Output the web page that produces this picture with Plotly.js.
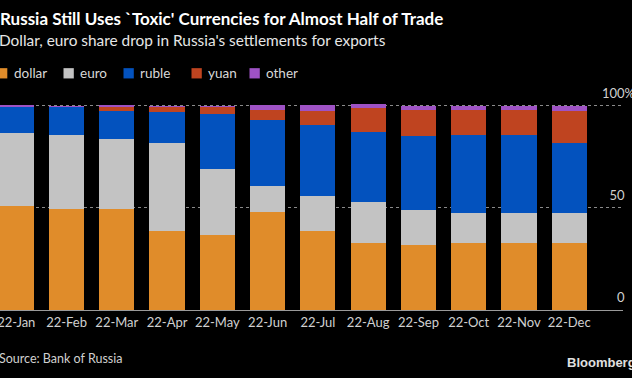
<!DOCTYPE html>
<html>
<head>
<meta charset="utf-8">
<script src="https://cdn.plot.ly/plotly-3.0.1.min.js"></script>
<style>
  html, body { margin: 0; padding: 0; background: #000; }
  #chart { width: 632px; height: 378px; }
</style>
</head>
<body>
<div id="chart"></div>
<script>
const months = ["22-Jan","22-Feb","22-Mar","22-Apr","22-May","22-Jun","22-Jul","22-Aug","22-Sep","22-Oct","22-Nov","22-Dec"];
const dollar = [51, 49.7, 49.7, 38.7, 36.9, 48.1, 38.7, 32.7, 31.9, 32.7, 32.7, 32.7];
const euro   = [36, 36.2, 34.3, 43.3, 32.0, 12.6, 17.1, 20.1, 17.0, 15.0, 15.0, 15.0];
const ruble  = [12.4, 13.5, 13.7, 14.9, 27.0, 32.3, 35.0, 34.3, 36.2, 38.2, 38.0, 34.3];
const yuan   = [0.3, 0.2, 1.6, 2.5, 3.4, 5.0, 6.9, 12.1, 12.9, 12.1, 12.3, 15.7];
const other  = [0.6, 0.6, 1.0, 0.6, 0.8, 2.5, 2.8, 1.8, 2.0, 2.0, 2.0, 2.3];

const seriesNames = ["dollar","euro","ruble","yuan","other"];
const seriesData = [dollar, euro, ruble, yuan, other];
const seriesColors = ["#E08C2A","#C3C3C3","#0352BE","#BF4420","#9E52C4"];

const yTickVals = [0, 50, 100];
const hid = '<span style="color:rgba(0,0,0,0)">%</span>';
const yTickText = ["0" + hid, "50" + hid, "100%"];

const FONT = "Lato, 'Noto Sans', sans-serif";

// plot-area geometry (pixels) for placing the page furniture
const W = 632, H = 378, ML = 0, MR = 9, MT = 76, MB = 68;
const PW = W - ML - MR, PH = H - MT - MB;
const px2x = p => (p - ML) / PW;
const px2y = p => (H - MB - p) / PH;

// hand-drawn legend (key squares + labels), left edges in px
const legendSquareLeft = [-3, 63.5, 123.5, 191.5, 249.5];
const legendY = 73.3, SQ = 10.3, GAP = 4.5;

const traces = seriesNames.map((n, i) => ({
  type: "bar",
  name: n,
  x: months,
  y: seriesData[i],
  marker: { color: seriesColors[i], line: { width: 0 } },
  hoverinfo: "skip"
}));

const shapes = seriesNames.map((n, i) => ({
  type: "rect", xref: "paper", yref: "paper",
  x0: px2x(legendSquareLeft[i]), x1: px2x(legendSquareLeft[i] + SQ),
  y0: px2y(legendY + SQ / 2), y1: px2y(legendY - SQ / 2),
  fillcolor: seriesColors[i], line: { width: 0 }
}));

const legendLabels = seriesNames.map((n, i) => ({
  text: n, xref: "paper", yref: "paper",
  x: px2x(legendSquareLeft[i] + SQ + GAP), y: px2y(legendY),
  xanchor: "left", yanchor: "middle", showarrow: false,
  font: { family: FONT, size: 13.5, color: "#d8d8d8" }
}));

const layout = {
  width: W, height: H,
  paper_bgcolor: "#000", plot_bgcolor: "#000",
  barmode: "stack",
  bargap: 0.30,
  margin: { l: ML, r: MR, t: MT, b: MB },
  font: { family: FONT, color: "#d0d0d0", size: 13 },
  title: {
    text: "<b>Russia Still Uses `Toxic' Currencies for Almost Half of Trade</b>",
    x: 0, xref: "container", xanchor: "left",
    y: 0.966, yref: "container", yanchor: "top",
    font: { family: FONT, size: 17, color: "#ffffff" }
  },
  showlegend: false,
  xaxis: {
    type: "category",
    range: [-0.324, 12.07],
    showgrid: false,
    showline: true, linecolor: "#9a9a9a", linewidth: 1,
    ticks: "",
    tickfont: { family: FONT, size: 13, color: "#d0d0d0" },
    fixedrange: true
  },
  yaxis: {
    range: [0, 114.7],
    side: "right",
    tickvals: yTickVals,
    ticktext: yTickText,
    ticklabelposition: "inside top",
    ticklabelstandoff: -15,
    ticklabelshift: -3,
    showgrid: true, gridcolor: "#8a8a8a", griddash: "dot", gridwidth: 1,
    zeroline: false,
    showline: false,
    ticks: "",
    tickfont: { family: FONT, size: 13, color: "#d0d0d0" },
    fixedrange: true
  },
  shapes: shapes,
  annotations: [
    { text: "Dollar, euro share drop in Russia's settlements for exports",
      xref: "paper", yref: "paper", x: px2x(-3), y: px2y(40),
      xanchor: "left", yanchor: "middle", showarrow: false,
      font: { family: FONT, size: 15.4, color: "#e6e6e6" } },
    { text: "Source: Bank of Russia", xref: "paper", yref: "paper", x: px2x(-3), y: px2y(358),
      xanchor: "left", yanchor: "middle", showarrow: false,
      font: { family: FONT, size: 12.5, color: "#d0d0d0" } },
    { text: "<b>Bloomberg</b>", xref: "paper", yref: "paper", x: px2x(638), y: px2y(362),
      xanchor: "right", yanchor: "middle", showarrow: false,
      font: { family: "'Liberation Sans', Arial, sans-serif", size: 13, color: "#e0e0e0" } }
  ].concat(legendLabels)
};

Plotly.newPlot("chart", traces, layout, { staticPlot: true, displayModeBar: false });
</script>
</body>
</html>
